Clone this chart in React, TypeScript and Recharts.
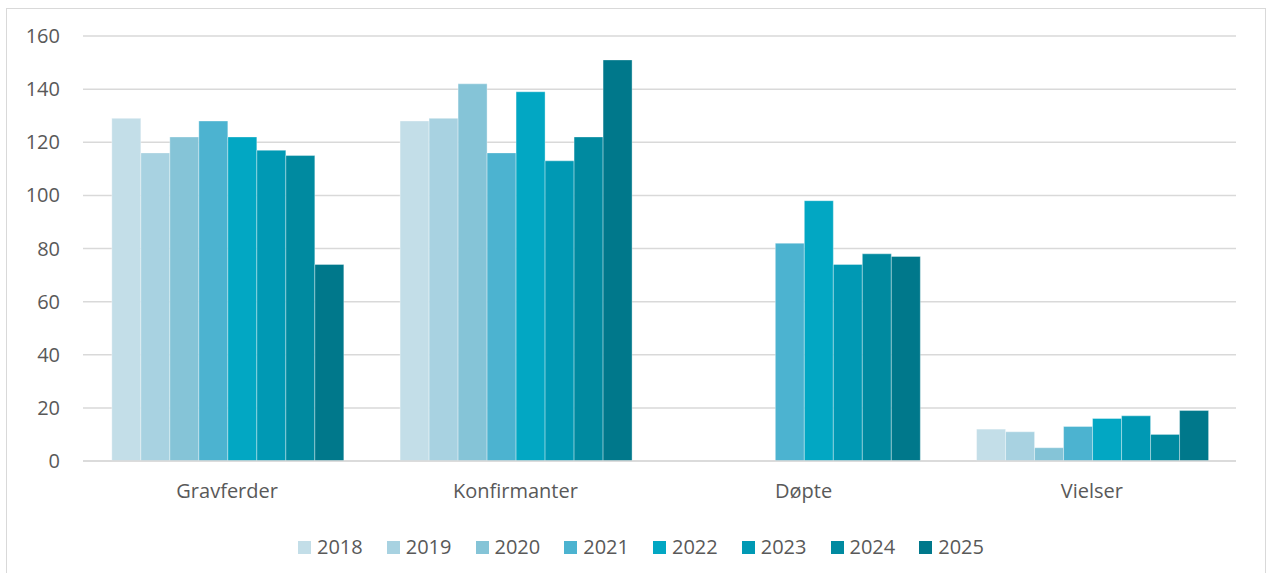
import React from 'react';
import { BarChart, Bar, XAxis, YAxis, CartesianGrid, Legend } from 'recharts';

const categories = ['Gravferder', 'Konfirmanter', 'Døpte', 'Vielser'];
const years = ['2018', '2019', '2020', '2021', '2022', '2023', '2024', '2025'];

const v2018 = [129, 128, null, 12];
const v2019 = [116, 129, null, 11];
const v2020 = [122, 142, null, 5];
const v2021 = [128, 116, 82, 13];
const v2022 = [122, 139, 98, 16];
const v2023 = [117, 113, 74, 17];
const v2024 = [115, 122, 78, 10];
const v2025 = [74, 151, 77, 19];

const yTicks = [0, 20, 40, 60, 80, 100, 120, 140, 160];

const colors = ['#C3DEE8', '#A8D2E1', '#85C4D7', '#4CB3D0', '#02A7C3', '#0099B4', '#008AA0', '#00788B'];

const series = [v2018, v2019, v2020, v2021, v2022, v2023, v2024, v2025];

const data = categories.map((name, i) => {
  const row: Record<string, string | number | null> = { name };
  years.forEach((y, j) => {
    row[y] = series[j][i];
  });
  return row;
});

const font = "'Open Sans', sans-serif";
const textColor = '#595959';

// legend drawn as a simple flex row so spacing can match the original
const LegendRow = () => (
  <div
    style={{
      display: 'flex',
      justifyContent: 'center',
      alignItems: 'center',
      paddingLeft: 36,
      fontSize: 20,
      fontFamily: font,
      color: textColor,
      lineHeight: '30px',
    }}
  >
    {years.map((y, j) => (
      <div key={y} style={{ display: 'flex', alignItems: 'center', marginRight: 24 }}>
        <span style={{ width: 13, height: 13, background: colors[j], marginRight: 6, display: 'inline-block' }} />
        <span>{y}</span>
      </div>
    ))}
  </div>
);

const App = () => {
  return (
    <div
      style={{
        position: 'absolute',
        left: 6,
        top: 8,
        width: 1258,
        height: 565,
        borderTop: '1.5px solid #D9D9D9',
        borderLeft: '1.5px solid #D9D9D9',
        borderRight: '1.5px solid #D9D9D9',
        background: '#fff',
        fontFamily: font,
      }}
    >
      <BarChart
        width={1256}
        height={563}
        data={data}
        margin={{ top: 27, right: 27, bottom: 10, left: 0 }}
        barGap={0}
        barCategoryGap="10%"
      >
        <CartesianGrid vertical={false} stroke="#D9D9D9" strokeWidth={1.5} />
        <XAxis
          dataKey="name"
          axisLine={{ stroke: '#D9D9D9', strokeWidth: 1.5 }}
          tickLine={false}
          tickSize={0}
          tickMargin={23}
          height={71}
          tick={{ fill: textColor, fontSize: 20, fontFamily: font }}
        />
        <YAxis
          width={76}
          domain={[0, 160]}
          ticks={yTicks}
          axisLine={false}
          tickLine={false}
          tickSize={0}
          tickMargin={23}
          tick={{ fill: textColor, fontSize: 20, fontFamily: font }}
        />
        <Legend
          verticalAlign="bottom"
          height={30}
          content={<LegendRow />}
          wrapperStyle={{ left: 0, width: 1256 }}
        />
        {years.map((y, j) => (
          <Bar
            key={y}
            dataKey={y}
            fill={colors[j]}
            stroke="#ffffff"
            strokeOpacity={0.35}
            strokeWidth={1}
            isAnimationActive={false}
          />
        ))}
      </BarChart>
    </div>
  );
};

export default App;
